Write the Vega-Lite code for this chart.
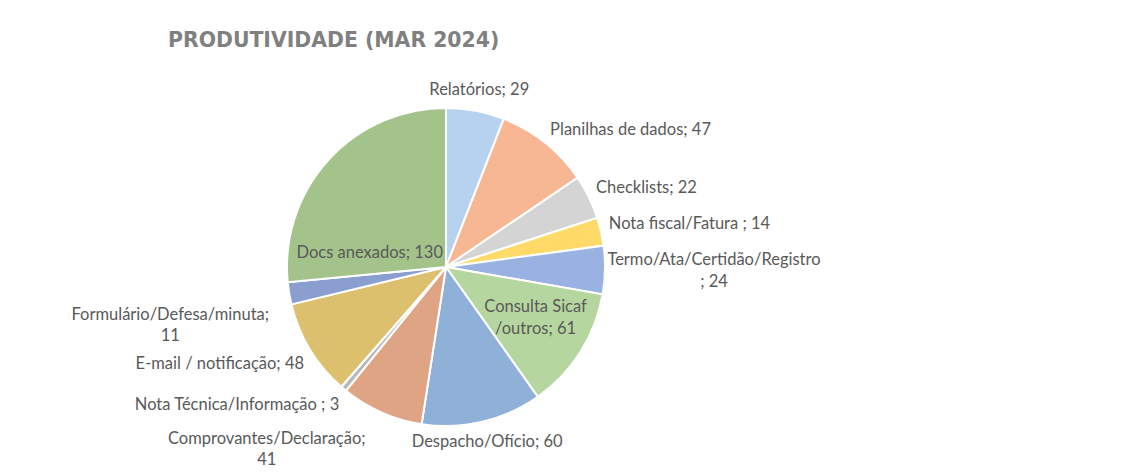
{
  "$schema": "https://vega.github.io/schema/vega-lite/v6.json",
  "width": 892,
  "height": 412,
  "autosize": {"type": "none"},
  "padding": {"left": 0, "top": 61, "right": 237, "bottom": 0},
  "background": "white",
  "title": {
    "text": "PRODUTIVIDADE (MAR 2024)",
    "anchor": "start",
    "frame": "group",
    "dx": 168,
    "dy": 21,
    "offset": 15,
    "baseline": "alphabetic",
    "font": "DejaVu Sans",
    "fontWeight": "bold",
    "fontSize": 20.4,
    "color": "#808080"
  },
  "config": {"view": {"stroke": null}},
  "data": {
    "values": [
      {"ordem": 1, "categoria": "Relatórios", "valor": 29, "rotulo": "Relatórios; 29"},
      {"ordem": 2, "categoria": "Planilhas de dados", "valor": 47, "rotulo": "Planilhas de dados; 47"},
      {"ordem": 3, "categoria": "Checklists", "valor": 22, "rotulo": "Checklists; 22"},
      {"ordem": 4, "categoria": "Nota fiscal/Fatura", "valor": 14, "rotulo": "Nota fiscal/Fatura ; 14"},
      {"ordem": 5, "categoria": "Termo/Ata/Certidão/Registro", "valor": 24, "rotulo": "Termo/Ata/Certidão/Registro\n; 24"},
      {"ordem": 6, "categoria": "Consulta Sicaf/outros", "valor": 61, "rotulo": "Consulta Sicaf\n/outros; 61"},
      {"ordem": 7, "categoria": "Despacho/Ofício", "valor": 60, "rotulo": "Despacho/Ofício; 60"},
      {"ordem": 8, "categoria": "Comprovantes/Declaração", "valor": 41, "rotulo": "Comprovantes/Declaração;\n41"},
      {"ordem": 9, "categoria": "Nota Técnica/Informação", "valor": 3, "rotulo": "Nota Técnica/Informação ; 3"},
      {"ordem": 10, "categoria": "E-mail / notificação", "valor": 48, "rotulo": "E-mail / notificação; 48"},
      {"ordem": 11, "categoria": "Formulário/Defesa/minuta", "valor": 11, "rotulo": "Formulário/Defesa/minuta;\n11"},
      {"ordem": 12, "categoria": "Docs anexados", "valor": 130, "rotulo": "Docs anexados; 130"}
    ]
  },
  "encoding": {
    "theta": {"field": "valor", "type": "quantitative", "stack": true},
    "order": {"field": "ordem", "type": "quantitative"},
    "detail": {"field": "categoria", "type": "nominal"}
  },
  "layer": [
    {
      "mark": {"type": "arc", "outerRadius": 159, "stroke": "white", "strokeWidth": 2},
      "encoding": {
        "color": {
          "field": "categoria",
          "type": "nominal",
          "legend": null,
          "scale": {
            "domain": ["Relatórios", "Planilhas de dados", "Checklists", "Nota fiscal/Fatura", "Termo/Ata/Certidão/Registro", "Consulta Sicaf/outros", "Despacho/Ofício", "Comprovantes/Declaração", "Nota Técnica/Informação", "E-mail / notificação", "Formulário/Defesa/minuta", "Docs anexados"],
            "range": ["#b6d2ef", "#f6b792", "#d4d4d4", "#ffda68", "#9ab2e1", "#b6d6a0", "#8fb1d8", "#dea483", "#b8b8b8", "#dcc06e", "#8a9fd0", "#a3c38b"]
          }
        }
      }
    },
    {
      "mark": {"type": "text", "radius": 180, "align": "center", "baseline": "middle", "font": "Lato", "fontSize": 16.5, "color": "#595959", "lineBreak": "\n", "lineHeight": 21},
      "encoding": {
        "text": {"condition": {"test": "indexof(['Relatórios','Despacho/Ofício'], datum.categoria) >= 0", "field": "rotulo"}, "value": ""}
      }
    },
    {
      "mark": {"type": "text", "radius": 167, "dy": -6, "align": "left", "baseline": "middle", "font": "Lato", "fontSize": 16.5, "color": "#595959", "lineBreak": "\n", "lineHeight": 21},
      "encoding": {
        "text": {"condition": {"test": "indexof(['Planilhas de dados','Checklists','Nota fiscal/Fatura'], datum.categoria) >= 0", "field": "rotulo"}, "value": ""}
      }
    },
    {
      "mark": {"type": "text", "radius": 167, "dx": 101, "dy": -10, "align": "center", "baseline": "middle", "font": "Lato", "fontSize": 16.5, "color": "#595959", "lineBreak": "\n", "lineHeight": 22},
      "encoding": {
        "text": {"condition": {"test": "datum.categoria === 'Termo/Ata/Certidão/Registro'", "field": "rotulo"}, "value": ""}
      }
    },
    {
      "mark": {"type": "text", "radius": 106, "dy": -17, "align": "center", "baseline": "middle", "font": "Lato", "fontSize": 16.5, "color": "#595959", "lineBreak": "\n", "lineHeight": 22},
      "encoding": {
        "text": {"condition": {"test": "datum.categoria === 'Consulta Sicaf/outros'", "field": "rotulo"}, "value": ""}
      }
    },
    {
      "mark": {"type": "text", "radius": 103, "dy": 55, "align": "center", "baseline": "middle", "font": "Lato", "fontSize": 16.5, "color": "#595959", "lineBreak": "\n", "lineHeight": 21},
      "encoding": {
        "text": {"condition": {"test": "datum.categoria === 'Docs anexados'", "field": "rotulo"}, "value": ""}
      }
    },
    {
      "mark": {"type": "text", "radius": 166, "dy": 11, "align": "right", "baseline": "middle", "font": "Lato", "fontSize": 16.5, "color": "#595959", "lineBreak": "\n", "lineHeight": 21},
      "encoding": {
        "text": {"condition": {"test": "indexof(['Nota Técnica/Informação','E-mail / notificação'], datum.categoria) >= 0", "field": "rotulo"}, "value": ""}
      }
    },
    {
      "mark": {"type": "text", "radius": 166, "dx": -112, "dy": 20, "align": "center", "baseline": "middle", "font": "Lato", "fontSize": 16.5, "color": "#595959", "lineBreak": "\n", "lineHeight": 21},
      "encoding": {
        "text": {"condition": {"test": "indexof(['Formulário/Defesa/minuta','Comprovantes/Declaração'], datum.categoria) >= 0", "field": "rotulo"}, "value": ""}
      }
    }
  ]
}
